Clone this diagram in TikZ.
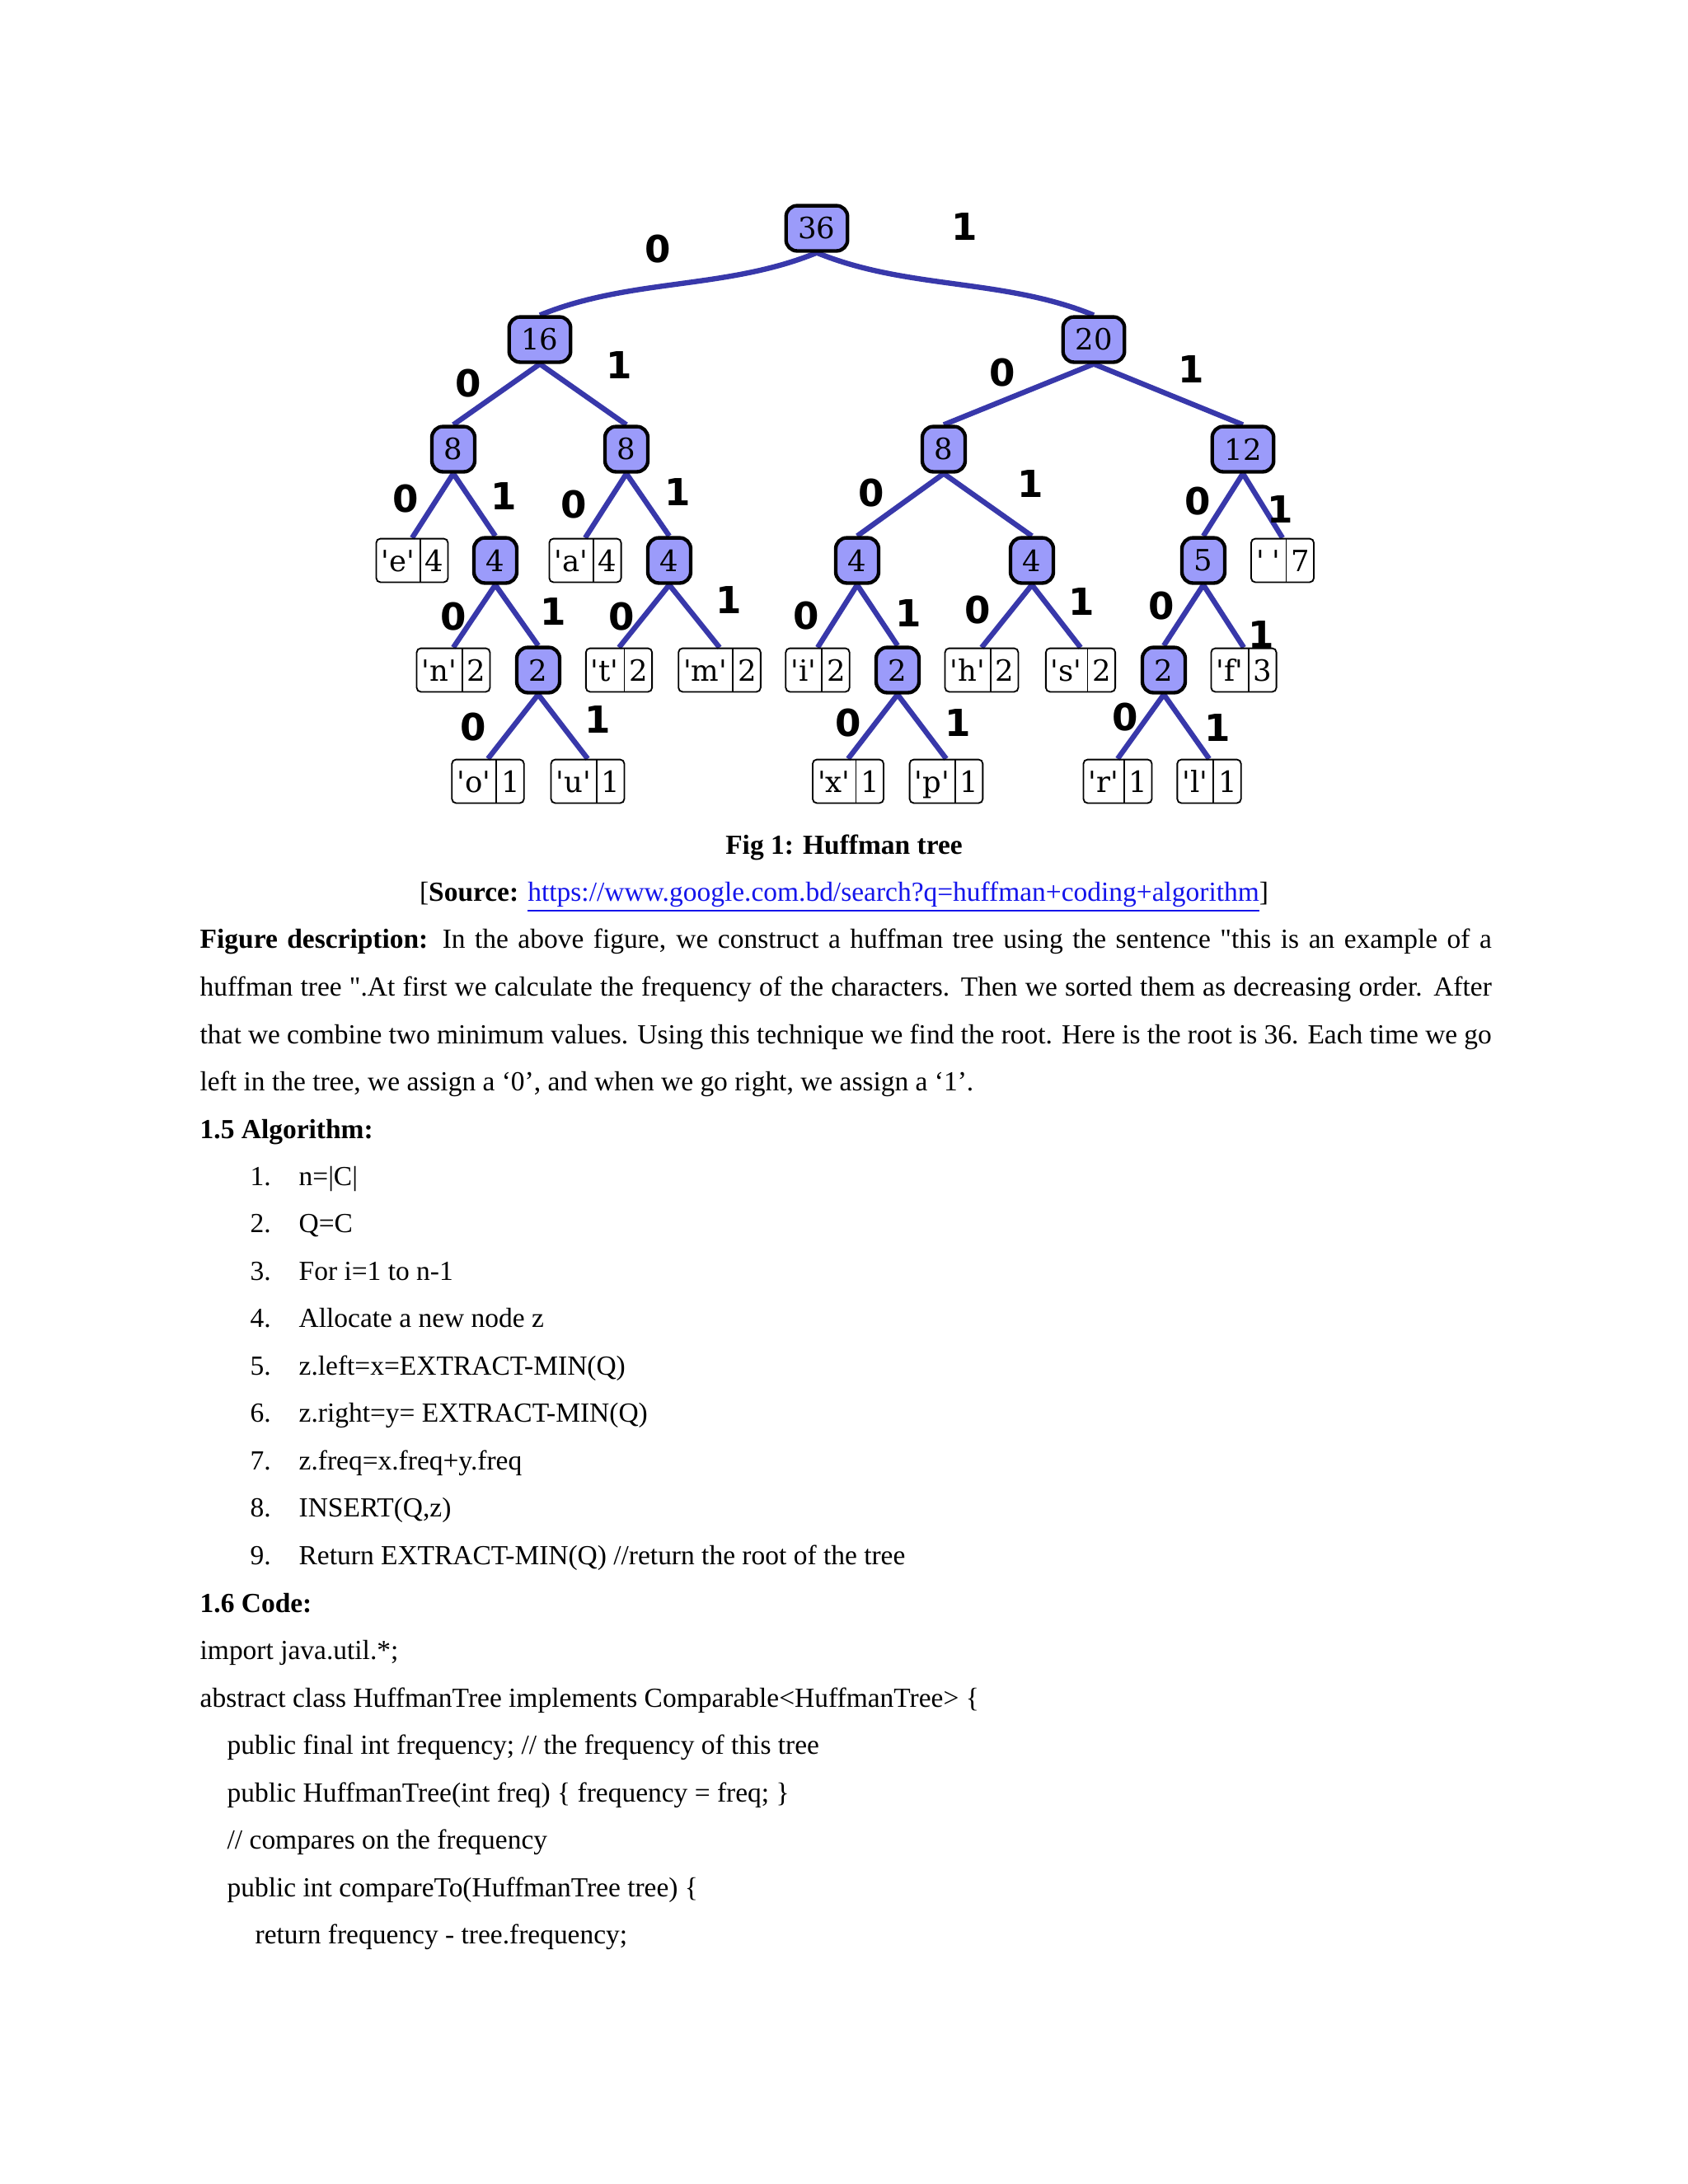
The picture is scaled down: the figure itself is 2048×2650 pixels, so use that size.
\documentclass[tikz,border=0pt]{standalone}
\usepackage{fontspec}
\setmainfont{Liberation Serif}
\newfontfamily\treefont{DejaVu Serif}
\newfontfamily\bitfont{DejaVu Sans}
\usetikzlibrary{backgrounds}

\definecolor{edgeblue}{RGB}{56,56,170}
\definecolor{nodefill}{RGB}{155,155,250}
\definecolor{linkblue}{RGB}{20,20,235}

% leaf = two cells, character | frequency
\newcommand\chq[1]{\textquotesingle#1\textquotesingle}
\newcommand\leafpair[2]{\hspace{1.8pt}#1\hspace{1.8pt}\vrule width 0.5pt height 11.9pt depth 3.9pt\makebox[9.8pt][c]{#2}}

\begin{document}
\begin{tikzpicture}[
    x=0.29883pt, y=-0.29883pt,
    inner/.style={draw, line width=1.3pt, fill=nodefill, rounded corners=4pt, minimum height=16.4pt, inner xsep=4.4pt, inner ysep=0pt, font=\treefont\fontsize{10.6}{13}\selectfont},
    leaf/.style={draw, line width=0.55pt, rounded corners=1.5pt, inner sep=0pt, font=\treefont\fontsize{10.6}{13}\selectfont},
    branch/.style={draw=edgeblue, line width=1.9pt},
    bit/.style={inner sep=0pt, font=\bitfont\bfseries\fontsize{13.5}{15}\selectfont},
    txt/.style={inner sep=0pt, anchor=base west, font=\fontsize{10}{12}\selectfont},
    ctxt/.style={txt, anchor=base}
]
    \useasboundingbox (0,0) rectangle (2048,2650);

    % Noeuds internes
    \node[inner] (n36) at (991,277) {36};
    \node[inner] (n16) at (655,412) {16};
    \node[inner] (n20) at (1327,412) {20};
    \node[inner] (n8a) at (550,545) {8};
    \node[inner] (n8b) at (760,545) {8};
    \node[inner] (n8c) at (1145,545) {8};
    \node[inner] (n12) at (1508,545) {12};
    \node[inner] (n4a) at (601,680) {4};
    \node[inner] (n4b) at (812,680) {4};
    \node[inner] (n4c) at (1040,680) {4};
    \node[inner] (n4d) at (1252,680) {4};
    \node[inner] (n5) at (1460,680) {5};
    \node[inner] (n2a) at (653,813) {2};
    \node[inner] (n2b) at (1089,813) {2};
    \node[inner] (n2c) at (1412,813) {2};

    % Feuilles
    \foreach \nm/\x/\y/\c/\f in {le/500/680/e/4, la/710/680/a/4,
        ln/550/813/n/2, lt/751/813/t/2, lm/873/813/m/2, li/992/813/i/2,
        lh/1191/813/h/2, ls/1311/813/s/2, lf/1509/813/f/3,
        lo/592/948/o/1, lu/713/948/u/1, lx/1029/948/x/1,
        lp/1148/948/p/1, lr/1356/948/r/1, ll/1467/948/l/1}
        \node[leaf] (\nm) at (\x,\y) {\leafpair{\chq{\c}}{\f}};
    \node[leaf] (lsp) at (1556,680) {\leafpair{\chq{\hspace{3pt}}}{7}};

    % Branches
    \begin{scope}[on background layer]
        \fill[white] (0,0) rectangle (2048,2650);
        \draw[branch] (n36.south) .. controls +(-110,45) and +(110,-45) .. (n16.north);
        \draw[branch] (n36.south) .. controls +(110,45) and +(-110,-45) .. (n20.north);
        \foreach \a/\b in {n16/n8a, n16/n8b, n20/n8c, n20/n12,
            n8a/le, n8a/n4a, n8b/la, n8b/n4b, n8c/n4c, n8c/n4d, n12/n5, n12/lsp,
            n4a/ln, n4a/n2a, n4b/lt, n4b/lm, n4c/li, n4c/n2b, n4d/lh, n4d/ls,
            n5/n2c, n5/lf, n2a/lo, n2a/lu, n2b/lx, n2b/lp, n2c/lr, n2c/ll}
            \draw[branch] (\a.south) -- (\b.north);
    \end{scope}

    % Bits 0/1
    \foreach \nm/\x/\y/\b in {b1/798/302/0, b2/1170/275/1,
        b3/568/465/0, b4/751/443/1, b5/1216/452/0, b6/1445/448/1,
        b7/492/605/0, b8/611/602/1, b9/696/612/0, b10/822/597/1,
        b11/1057/598/0, b12/1250/587/1, b13/1453/608/0, b14/1553/618/1,
        b15/550/748/0, b16/671/742/1, b17/754/748/0, b18/884/728/1,
        b19/978/747/0, b20/1102/744/1, b21/1186/740/0, b22/1312/730/1,
        b23/1409/735/0, b24/1530/770/1, b25/574/882/0, b26/725/873/1,
        b27/1029/877/0, b28/1162/877/1, b29/1365/870/0, b30/1477/883/1}
        \node[bit] (\nm) at (\x,\y) {\b};

    % Texte
    \node[ctxt] (caption) at (1024,1036) {\textbf{Fig 1: Huffman tree}};
    \node[ctxt] (source) at (1024,1093) {[\textbf{Source:} \textcolor{linkblue}{\underline{https://www.google.com.bd/search?q=huffman+coding+algorithm}}]};
    \node[txt] (desc1) at (242,1150) {\makebox[468.3pt][s]{\textbf{Figure description:} In the above figure, we construct a huffman tree using the sentence \textquotedbl this is an example of a}};
    \node[txt] (desc2) at (242,1208) {\makebox[468.3pt][s]{huffman tree \textquotedbl.At first we calculate the frequency of the characters. Then we sorted them as decreasing order. After}};
    \node[txt] (desc3) at (242,1266) {\makebox[468.3pt][s]{that we combine two minimum values. Using this technique we find the root. Here is the root is 36. Each time we go}};
    \node[txt] (desc4) at (242,1323) {left in the tree, we assign a ‘0’, and when we go right, we assign a ‘1’.};

    \node[txt] (algo) at (242,1381) {\textbf{1.5 Algorithm:}};
    \foreach \i/\s in {1/{n=|C|}, 2/{Q=C}, 3/{For i=1 to n-1}, 4/{Allocate a new node z},
        5/{z.left=x=EXTRACT-MIN(Q)}, 6/{z.right=y= EXTRACT-MIN(Q)}, 7/{z.freq=x.freq+y.freq},
        8/{INSERT(Q,z)}, 9/{Return EXTRACT-MIN(Q) //return the root of the tree}}
        \node[txt] (step\i) at (303,{1438+57.5*(\i-1)}) {\makebox[17.63pt][l]{\i.}\s};

    \node[txt] (code) at (242,1956) {\textbf{1.6 Code:}};
    \node[txt] (code1) at (242,2013) {import java.util.*;};
    \node[txt] (code2) at (242,2071) {abstract class HuffmanTree implements Comparable<HuffmanTree> \{};
    \node[txt] (code3) at (275,2128) {public final int frequency; // the frequency of this tree};
    \node[txt] (code4) at (275,2186) {public HuffmanTree(int freq) \{ frequency = freq; \}};
    \node[txt] (code5) at (275,2243) {// compares on the frequency};
    \node[txt] (code6) at (275,2301) {public int compareTo(HuffmanTree tree) \{};
    \node[txt] (code7) at (309,2358) {return frequency - tree.frequency;};
\end{tikzpicture}
\end{document}
